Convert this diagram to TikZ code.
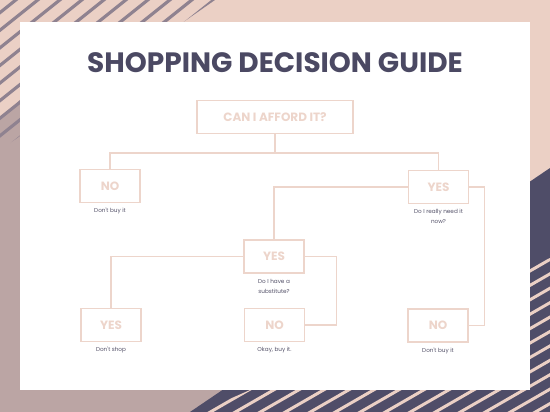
\documentclass[tikz,border=0pt]{standalone}
\usepackage{fontspec}
\newfontfamily\popfont{Poppins}
\usetikzlibrary{positioning}

\definecolor{blush}{HTML}{EBD0C5}
\definecolor{mauve}{HTML}{BBA5A4}
\definecolor{slate}{HTML}{4F4D68}
\definecolor{titleslate}{HTML}{4B4963}
\definecolor{boxline}{HTML}{EDD5CB}
\definecolor{stripegrey}{HTML}{8F8290}
\definecolor{captiongrey}{HTML}{55536A}

\tikzset{
  choice/.style={draw=boxline, line width=1.4pt, minimum height=33pt,
    minimum width=60pt, inner sep=0pt, text=boxline,
    font=\popfont\bfseries\fontsize{12}{12}\selectfont},
  note/.style={text=captiongrey, font=\popfont\fontsize{5.7}{10}\selectfont,
    align=center, inner sep=0pt},
  link/.style={draw=boxline, line width=1.4pt}
}

\begin{document}
\begin{tikzpicture}[x=1pt,y=-1pt]
  \useasboundingbox (0,0) rectangle (550,412);
  % background
  \fill [blush] (0,0) rectangle (550,412);
  \fill [mauve] (0,120) -- (34,86) -- (420,412) -- (0,412) -- cycle;
  \begin{scope}
    \clip (0,0) -- (215,0) -- (0,150) -- cycle;
    \foreach \s in {0,22,...,440}
      \draw [stripegrey, line width=3.2pt] (\s,-5) -- ++(-220,176);
  \end{scope}
  \fill [slate] (190,412) -- (550,168) -- (550,412) -- cycle;
  \begin{scope}
    \clip (200,412) -- (550,258) -- (550,412) -- cycle;
    \foreach \s in {100,125,...,900}
      \draw [blush, line width=3pt] (\s,418) -- ++(300,-173);
  \end{scope}
  \fill [white] (20,22) rectangle (530,390);

  % title
  \node [text=titleslate, font=\popfont\bfseries\fontsize{28}{28}\selectfont]
    (title) at (275,63) {SHOPPING DECISION GUIDE};

  % boxes
  \node [choice, minimum width=156pt] (afford) at (275,117) {CAN I AFFORD IT?};
  \node [choice] (no1)  at (110,186)   {NO};
  \node [choice] (yes1) at (438.5,187) {YES};
  \node [choice] (yes2) at (274,256.5) {YES};
  \node [choice] (yes3) at (111,325)   {YES};
  \node [choice] (no2)  at (274.5,325) {NO};
  \node [choice] (no3)  at (438,325.5) {NO};

  % captions
  \node [note, below=5pt of no1]  (no1note)  {Don't buy it};
  \node [note, below=5pt of yes1] (yes1note) {Do I really need it\\now?};
  \node [note, below=5pt of yes2] (yes2note) {Do I have a\\substitute?};
  \node [note, below=5pt of yes3] (yes3note) {Don't shop};
  \node [note, below=5pt of no2]  (no2note)  {Okay, buy it.};
  \node [note, below=5pt of no3]  (no3note)  {Don't buy it};

  % connectors
  \draw [link] (afford.south) -- ++(0,19) coordinate (split);
  \draw [link] (no1.north) |- (split) -| (yes1.north);
  \draw [link] (yes1.west) -| (yes2.north);
  \draw [link] (yes1.east) -- ++(15,0) |- (no3.east);
  \draw [link] (yes2.west) -| (yes3.north);
  \draw [link] (yes2.east) -- ++(32,0) |- (no2.east);
\end{tikzpicture}
\end{document}
